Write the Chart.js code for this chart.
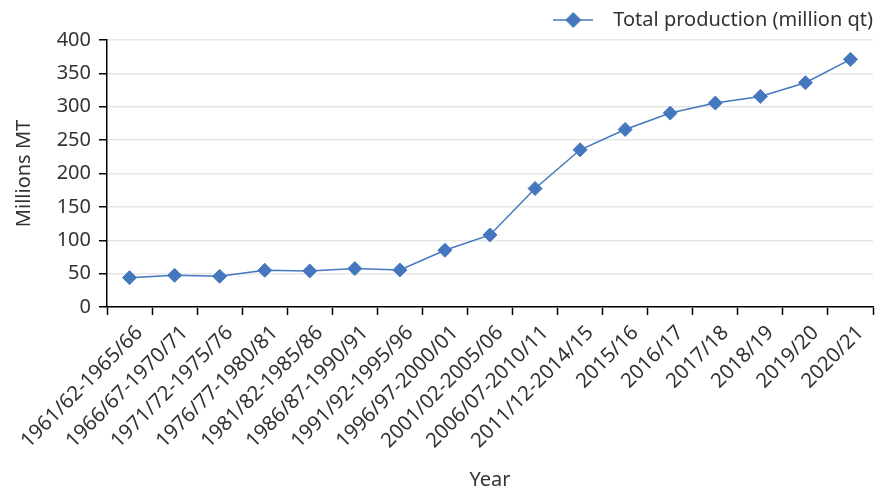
<!DOCTYPE html>
<html>
<head>
<meta charset="utf-8">
<script src="https://cdn.jsdelivr.net/npm/chart.js@4"></script>
<style>
  html, body { margin: 0; padding: 0; background: #fff; }
  #wrap { width: 883px; height: 490px; }
</style>
</head>
<body>
<div id="wrap"><canvas id="productionChart"></canvas></div>
<script>
const years = [
  "1961/62-1965/66", "1966/67-1970/71", "1971/72-1975/76", "1976/77-1980/81",
  "1981/82-1985/86", "1986/87-1990/91", "1991/92-1995/96", "1996/97-2000/01",
  "2001/02-2005/06", "2006/07-2010/11", "2011/12-2014/15", "2015/16",
  "2016/17", "2017/18", "2018/19", "2019/20", "2020/21"
];
const totalProduction = [44, 47.5, 46, 55, 54, 57.5, 55.5, 85, 108, 177.5, 235.5, 266, 290.5, 305.5, 315.5, 336, 371];
const yTicks = [0, 50, 100, 150, 200, 250, 300, 350, 400];

const blue = "#4477BE";
const textColor = "#333333";
const fontFamily = "'Noto Sans', 'Open Sans', sans-serif";

// legend marker: short line with a diamond on it
const legendMark = document.createElement("canvas");
legendMark.width = 40;
legendMark.height = 20;
(function () {
  const c = legendMark.getContext("2d");
  c.strokeStyle = blue;
  c.lineWidth = 1.5;
  c.beginPath();
  c.moveTo(0, 10);
  c.lineTo(40, 10);
  c.stroke();
  c.fillStyle = blue;
  c.beginPath();
  c.moveTo(20, 2);
  c.lineTo(28, 10);
  c.lineTo(20, 18);
  c.lineTo(12, 10);
  c.closePath();
  c.fill();
})();

const ctx = document.getElementById("productionChart").getContext("2d");

new Chart(ctx, {
  type: "line",
  data: {
    labels: years,
    datasets: [
      {
        label: "Total production (million qt)",
        data: totalProduction,
        borderColor: blue,
        backgroundColor: blue,
        borderWidth: 1.5,
        pointStyle: "rectRot",
        pointRadius: 7,
        pointBorderWidth: 1,
        fill: false,
        tension: 0,
      },
    ],
  },
  options: {
    responsive: true,
    maintainAspectRatio: false,
    animation: false,
    layout: {
      padding: { top: 10, right: 10, bottom: 0, left: 0 },
    },
    plugins: {
      tooltip: { enabled: false },
      legend: {
        position: "top",
        align: "end",
        labels: {
          usePointStyle: true,
          pointStyle: legendMark,
          pointStyleWidth: 60,
          padding: 0,
          color: textColor,
          font: { family: fontFamily, size: 20 },
        },
      },
    },
    scales: {
      x: {
        offset: true,
        grid: {
          offset: true,
          drawOnChartArea: false,
          drawTicks: true,
          tickLength: 8,
          tickColor: "#000",
          tickWidth: 1.5,
        },
        border: { display: true, color: "#000", width: 1.5 },
        ticks: {
          autoSkip: false,
          minRotation: 45,
          maxRotation: 45,
          padding: 6,
          labelOffset: 10,
          color: textColor,
          font: { family: fontFamily, size: 20.5 },
        },
        title: {
          display: true,
          text: "Year",
          color: textColor,
          font: { family: fontFamily, size: 20 },
          padding: { top: 0, bottom: -2 },
        },
        afterFit(scale) {
          scale.height = 183;
        },
      },
      y: {
        min: 0,
        max: 400,
        afterBuildTicks(scale) {
          scale.ticks = yTicks.map((v) => ({ value: v }));
        },
        grid: {
          color: "#e6e6e6",
          lineWidth: 1.5,
          tickLength: 8,
          tickColor: "#000",
          tickWidth: 1.5,
        },
        border: { display: true, color: "#000", width: 1.5 },
        ticks: {
          padding: 8,
          color: textColor,
          font: { family: fontFamily, size: 20 },
        },
        title: {
          display: true,
          text: "Millions MT",
          color: textColor,
          font: { family: fontFamily, size: 20 },
          padding: { top: 12, bottom: 0 },
        },
        afterFit(scale) {
          scale.width = 107;
        },
      },
    },
  },
});
</script>
</body>
</html>
